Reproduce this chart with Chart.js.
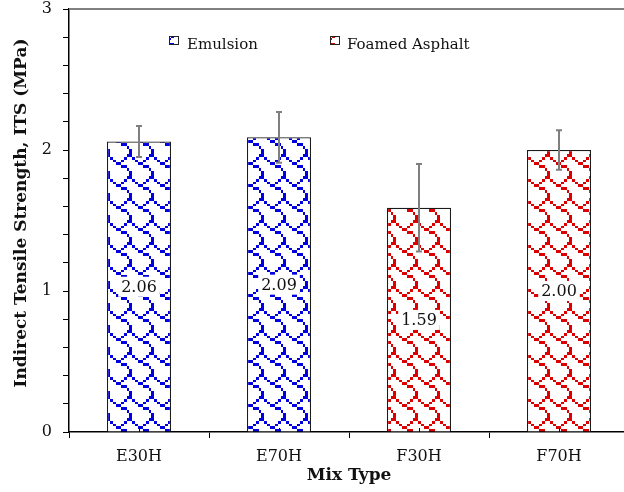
<!DOCTYPE html>
<html>
<head>
<meta charset="utf-8">
<script src="https://cdn.jsdelivr.net/npm/chart.js@4.4.1/dist/chart.umd.min.js"></script>
<style>
  html, body { margin: 0; padding: 0; background: #fff; overflow: hidden; }
  #wrap { position: relative; width: 629px; height: 492px; }
</style>
</head>
<body>
<div id="wrap"><canvas id="its"></canvas></div>
<script>
// Indirect tensile strength per mix type
const categories = ['E30H', 'E70H', 'F30H', 'F70H'];
const itsValues = [2.06, 2.09, 1.59, 2.00];
const itsErrors = [0.11, 0.18, 0.31, 0.14];
const binderGroup = [0, 0, 1, 1];               // 0 = Emulsion, 1 = Foamed Asphalt
const legendLabels = ['Emulsion', 'Foamed Asphalt'];
const yTickLabels = [0, 1, 2, 3];

const FONT = '"DejaVu Serif", "Liberation Serif", serif';
const groupColors = ['#0000e0', '#dc0000'];

// Shingle hatch: an 8x8 bitmap stretched over a 22 px tile
function shingleTile(color) {
  const bits = [0x03, 0x84, 0x48, 0x30, 0x0C, 0x02, 0x01, 0x01];
  const T = 22;
  const c = document.createElement('canvas');
  c.width = T; c.height = T;
  const g = c.getContext('2d');
  g.fillStyle = '#fff';
  g.fillRect(0, 0, T, T);
  g.fillStyle = color;
  const edge = i => Math.round(i * T / 8);
  for (let r = 0; r < 8; r++) {
    for (let b = 0; b < 8; b++) {
      if (bits[r] & (0x80 >> b)) {
        g.fillRect(edge(b), edge(r), edge(b + 1) - edge(b), edge(r + 1) - edge(r));
      }
    }
  }
  return c;
}
const tiles = groupColors.map(shingleTile);
const patterns = tiles.map(t => t.getContext('2d').createPattern(t, 'repeat'));

const decorations = {
  id: 'decorations',
  afterDatasetsDraw(chart) {
    const { ctx, chartArea: a, scales: { x, y } } = chart;
    ctx.save();
    // top frame line
    ctx.strokeStyle = '#808080';
    ctx.lineWidth = 2;
    ctx.beginPath();
    ctx.moveTo(a.left, a.top);
    ctx.lineTo(a.right, a.top);
    ctx.stroke();
    // small inner ticks at category centres
    ctx.strokeStyle = '#000';
    ctx.lineWidth = 1;
    categories.forEach((c, i) => {
      const px = Math.round(x.getPixelForValue(i)) + 0.5;
      ctx.beginPath();
      ctx.moveTo(px, a.bottom);
      ctx.lineTo(px, a.bottom - 4);
      ctx.stroke();
    });
    // error bars
    ctx.strokeStyle = '#7f7f7f';
    ctx.lineWidth = 2;
    itsValues.forEach((v, i) => {
      const px = Math.round(x.getPixelForValue(i));
      const hi = y.getPixelForValue(v + itsErrors[i]);
      const lo = y.getPixelForValue(v - itsErrors[i]);
      ctx.beginPath();
      ctx.moveTo(px, hi); ctx.lineTo(px, lo);
      ctx.moveTo(px - 3, hi); ctx.lineTo(px + 3, hi);
      ctx.moveTo(px - 3, lo); ctx.lineTo(px + 3, lo);
      ctx.stroke();
    });
    // value labels at mid-bar
    ctx.font = '16px ' + FONT;
    ctx.textAlign = 'center';
    ctx.textBaseline = 'middle';
    itsValues.forEach((v, i) => {
      const px = x.getPixelForValue(i);
      const py = y.getPixelForValue(v / 2);
      const txt = v.toFixed(2);
      const w = ctx.measureText(txt).width;
      ctx.fillStyle = '#fff';
      ctx.fillRect(px - w / 2 - 3, py - 10, w + 6, 20);
      ctx.fillStyle = '#111';
      ctx.fillText(txt, px, py + 1);
    });
    // legend
    const items = [{ x: 169, tx: 187 }, { x: 330, tx: 347 }];
    items.forEach((it, k) => {
      // show the corner of the hatch tile where the stroke crosses
      ctx.drawImage(tiles[k], 12, 4, 9, 8, it.x, 36, 9, 8);
      ctx.strokeStyle = '#222';
      ctx.lineWidth = 1;
      ctx.strokeRect(it.x + 0.5, 36.5, 9, 8);
      ctx.fillStyle = '#111';
      ctx.font = '15px ' + FONT;
      ctx.textAlign = 'left';
      ctx.textBaseline = 'middle';
      ctx.fillText(legendLabels[k], it.tx, 45);
    });
    // axis titles
    ctx.fillStyle = '#111';
    ctx.font = 'bold 17px ' + FONT;
    ctx.textAlign = 'center';
    ctx.textBaseline = 'middle';
    ctx.fillText('Mix Type', 349, 476);
    ctx.translate(22, 213);
    ctx.rotate(-Math.PI / 2);
    ctx.fillText('Indirect Tensile Strength, ITS (MPa)', 0, 0);
    ctx.restore();
  }
};

new Chart(document.getElementById('its'), {
  type: 'bar',
  data: {
    labels: categories,
    datasets: [{
      label: 'ITS',
      data: itsValues,
      backgroundColor: binderGroup.map(g => patterns[g]),
      borderColor: '#1a1a1a',
      borderWidth: 1.2,
      borderSkipped: 'bottom',
      barPercentage: 0.457,
      categoryPercentage: 1.0
    }]
  },
  options: {
    responsive: true,
    maintainAspectRatio: false,
    animation: false,
    devicePixelRatio: 1,
    layout: { padding: { top: 9, left: 0, right: 0, bottom: 0 } },
    plugins: { legend: { display: false }, tooltip: { enabled: false } },
    scales: {
      x: {
        type: 'category',
        offset: true,
        grid: { offset: true, drawOnChartArea: false, drawTicks: true, tickLength: 6, color: '#000', lineWidth: 1 },
        border: { color: '#000', width: 1.5 },
        ticks: { color: '#111', font: { family: FONT, size: 16 }, padding: 9, maxRotation: 0 },
        afterFit(s) { s.height = 60; s.paddingLeft = 0; s.paddingRight = 0; }
      },
      y: {
        min: 0,
        max: 3,
        grid: { drawOnChartArea: false, drawTicks: true, tickLength: 6, color: '#000', lineWidth: 1 },
        border: { color: '#000', width: 1.5 },
        ticks: {
          stepSize: 0.2,
          color: '#111',
          font: { family: FONT, size: 16 },
          padding: 11,
          autoSkip: false,
          callback(v) {
            const r = Math.round(v);
            return (Math.abs(v - r) < 1e-6 && yTickLabels.includes(r)) ? String(r) : '';
          }
        },
        afterFit(s) { s.width = 69; s.paddingTop = 0; s.paddingBottom = 0; }
      }
    }
  },
  plugins: [decorations]
});
</script>
</body>
</html>
